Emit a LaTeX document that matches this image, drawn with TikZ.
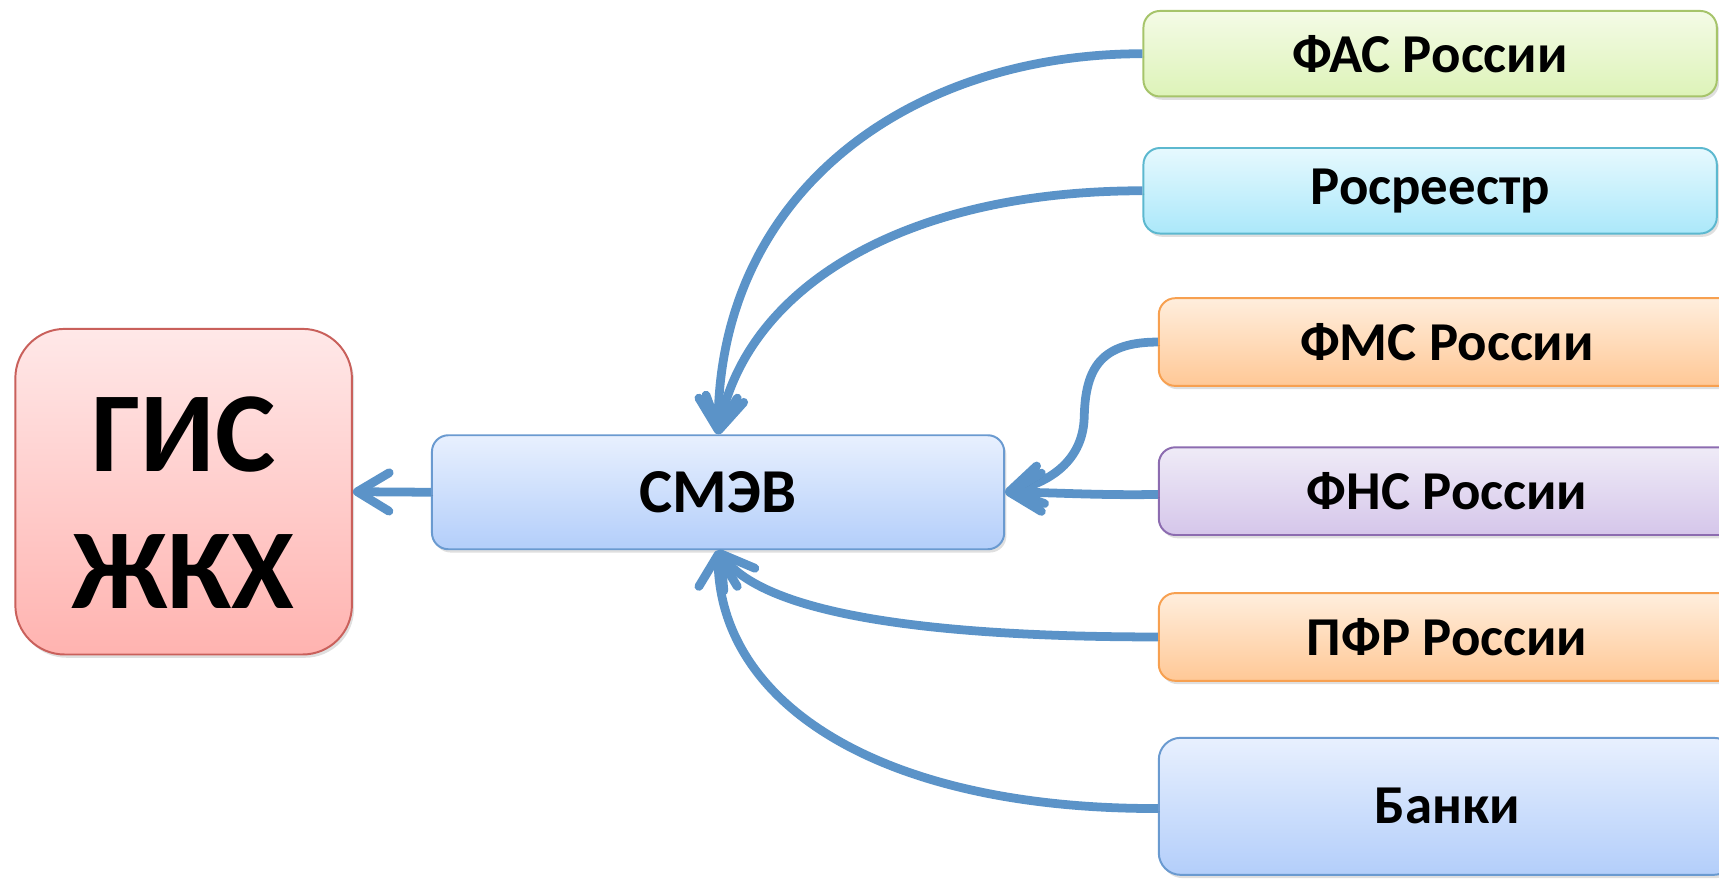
\documentclass[tikz,border=0pt]{standalone}
\usepackage{fontspec}
\setmainfont{Carlito}
\usetikzlibrary{arrows.meta,shadows}
\definecolor{arrowc}{HTML}{5B93C8}
\definecolor{gisT}{HTML}{FFE8E8}\definecolor{gisB}{HTML}{FFB3B0}\definecolor{gisD}{HTML}{C9605B}
\definecolor{bluT}{HTML}{E8F0FE}\definecolor{bluB}{HTML}{B3CEFA}\definecolor{bluD}{HTML}{6A9AD0}
\definecolor{grnT}{HTML}{F4FBE6}\definecolor{grnB}{HTML}{DDF3B8}\definecolor{grnD}{HTML}{A6C46A}
\definecolor{cyaT}{HTML}{E6F9FE}\definecolor{cyaB}{HTML}{ABE8FA}\definecolor{cyaD}{HTML}{5CB8CF}
\definecolor{orgT}{HTML}{FFEEDD}\definecolor{orgB}{HTML}{FFC896}\definecolor{orgD}{HTML}{F7A050}
\definecolor{purT}{HTML}{EFEBF7}\definecolor{purB}{HTML}{D5C6EA}\definecolor{purD}{HTML}{8C6CB0}
\begin{document}
\begin{tikzpicture}[x=1pt,y=-1pt,
  box/.style={draw, line width=1.8pt, rounded corners=15pt, inner sep=0pt,
    font=\fontsize{50}{60}\selectfont\bfseries,
    drop shadow={opacity=0.25, shadow xshift=2pt, shadow yshift=-3pt}},
  gisbox/.style={box, draw=gisD, top color=gisT, bottom color=gisB, rounded corners=45pt},
  blubox/.style={box, draw=bluD, top color=bluT, bottom color=bluB},
  grnbox/.style={box, draw=grnD, top color=grnT, bottom color=grnB},
  cyabox/.style={box, draw=cyaD, top color=cyaT, bottom color=cyaB},
  orgbox/.style={box, draw=orgD, top color=orgT, bottom color=orgB},
  purbox/.style={box, draw=purD, top color=purT, bottom color=purB},
  arr/.style={draw=arrowc, line width=8pt, line cap=butt,
    -{Straight Barb[length=29pt,width=35pt,round]},
    preaction={draw=black, opacity=0.13, transform canvas={shift={(2pt,-3pt)}}}}
]
\clip (0,0) rectangle (1568,801);
\node[gisbox, minimum width=307pt, minimum height=297pt,
  font=\fontsize{104}{125}\selectfont\bfseries] (gis) at (167.5,448.5)
  {\raisebox{0pt}[\dimexpr\height+38pt\relax][\depth]{\begin{tabular}{@{}c@{}}ГИС\\ЖКХ\end{tabular}}};
\node[blubox, minimum width=522pt, minimum height=104pt,
  font=\fontsize{57}{67}\selectfont\bfseries] (smev) at (655,449) {СМЭВ};
\node[grnbox, minimum width=523pt, minimum height=78pt] (fas) at (1304.5,49) {ФАС России};
\node[cyabox, minimum width=523pt, minimum height=78pt] (ros) at (1304.5,174) {Росреестр};
\node[orgbox, minimum width=526pt, minimum height=80pt] (fms) at (1320,312) {ФМС России};
\node[purbox, minimum width=526pt, minimum height=80pt] (fns) at (1320,448) {ФНС России};
\node[orgbox, minimum width=526pt, minimum height=80pt] (pfr) at (1320,581) {ПФР России};
\node[blubox, minimum width=526pt, minimum height=125pt, rounded corners=20pt] (banki) at (1320,735.5) {Банки};

\draw[arr] (smev.west) -- (gis.east);
\draw[arr] (fas.west) .. controls (830,49) and (655,175) .. (smev.north);
\draw[arr] (ros.west) .. controls (820,174) and (680,265) .. (smev.north);
\draw[arr] (fms.west) .. controls (1005,312) and (990,335) .. (989,380) .. controls (988,425) and (950,442) .. (smev.east);
\draw[arr] ([yshift=-3pt]fns.west) .. controls (1000,452) and (960,449) .. (smev.east);
\draw[arr] (pfr.west) .. controls (800,581) and (690,550) .. (smev.south);
\draw[arr] ([yshift=-2pt]banki.west) .. controls (800,738) and (655,640) .. (smev.south);
\end{tikzpicture}
\end{document}
